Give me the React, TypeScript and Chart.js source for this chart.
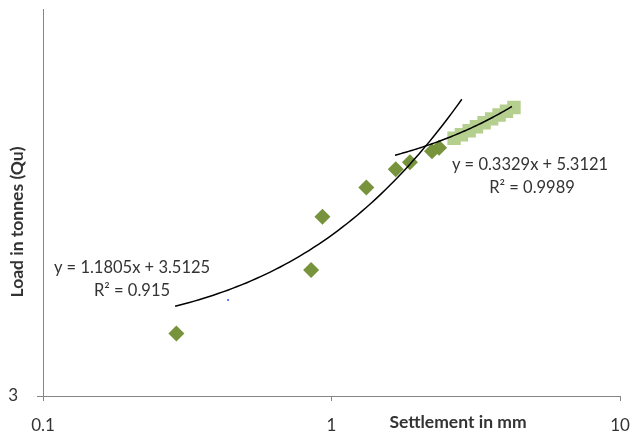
import React, { useEffect, useRef } from "react";
import { Chart, registerables } from "chart.js";

Chart.register(...registerables);

// Series 1: dark green diamonds (settlement mm, load)
const s1X = [0.29, 0.85, 0.93, 1.32, 1.67, 1.87, 2.23, 2.36];
const s1Y = [3.57, 4.26, 4.94, 5.36, 5.64, 5.75, 5.93, 5.99];

// Series 2: light green squares
const s2X = [2.66, 2.82, 3.0, 3.18, 3.38, 3.59, 3.81, 4.04, 4.29];
const s2Y = [6.15, 6.21, 6.28, 6.35, 6.42, 6.49, 6.56, 6.63, 6.7];

// Stray point
const s3X = [0.438];
const s3Y = [3.92];

// Trendlines (from displayed equations)
const trend1 = { slope: 1.1805, intercept: 3.5125, from: 0.287, to: 2.83 };
const trend2 = { slope: 0.3329, intercept: 5.3121, from: 1.66, to: 4.22 };
const trend1Label = ["y = 1.1805x + 3.5125", "R² = 0.915"];
const trend2Label = ["y = 0.3329x + 5.3121", "R² = 0.9989"];

const xTicks = [0.1, 1, 10];
const yTicks = [3];

const xTitle = "Settlement in mm";
const yTitle = "Load in tonnes (Qu)";

function trendPoints(t: { slope: number; intercept: number; from: number; to: number }) {
  const pts: { x: number; y: number }[] = [];
  const n = 60;
  const a = Math.log10(t.from);
  const b = Math.log10(t.to);
  for (let i = 0; i <= n; i++) {
    const x = Math.pow(10, a + ((b - a) * i) / n);
    pts.push({ x, y: t.slope * x + t.intercept });
  }
  return pts;
}

const FONT = "Lato, 'Open Sans', sans-serif";
const TEXT = "#333333";
const AXIS = "#868686";

export default function App() {
  const ref = useRef<HTMLCanvasElement | null>(null);
  useEffect(() => {
    if (!ref.current) return;
    const textPlugin = {
      id: "texts",
      afterDraw(chart: any) {
        const ctx = chart.ctx;
        ctx.save();
        ctx.fillStyle = TEXT;
        ctx.textAlign = "center";
        ctx.textBaseline = "middle";
        ctx.font = `16.5px ${FONT}`;
        ctx.fillText(trend1Label[0], 132, 268);
        ctx.fillText(trend1Label[1], 132, 291);
        ctx.fillText(trend2Label[0], 530, 165);
        ctx.fillText(trend2Label[1], 532, 188);
        ctx.font = `bold 17.5px ${FONT}`;
        ctx.fillText(xTitle, 458, 422);
        ctx.translate(17, 222);
        ctx.rotate(-Math.PI / 2);
        ctx.fillText(yTitle, 0, 0);
        ctx.restore();
      },
    };
    const chart = new Chart(ref.current, {
      type: "scatter",
      data: {
        datasets: [
          {
            data: trendPoints(trend1),
            showLine: true,
            borderColor: "#000000",
            borderWidth: 1.5,
            pointRadius: 0,
            order: 0,
          },
          {
            data: trendPoints(trend2),
            showLine: true,
            borderColor: "#000000",
            borderWidth: 1.5,
            pointRadius: 0,
            order: 0,
          },
          {
            data: s1X.map((x, i) => ({ x, y: s1Y[i] })),
            pointStyle: "rectRot",
            pointRadius: 8,
            backgroundColor: "#77933C",
            borderColor: "#77933C",
            borderWidth: 0,
            order: 2,
          },
          {
            data: s2X.map((x, i) => ({ x, y: s2Y[i] })),
            pointStyle: "rect",
            pointRadius: 9.5,
            backgroundColor: "#B5D08E",
            borderColor: "#B5D08E",
            borderWidth: 0,
            order: 1,
          },
          {
            data: s3X.map((x, i) => ({ x, y: s3Y[i] })),
            pointStyle: "circle",
            pointRadius: 1,
            backgroundColor: "#3050ff",
            borderColor: "#3050ff",
            borderWidth: 0,
            order: 1,
          },
        ],
      },
      options: {
        animation: false,
        responsive: false,
        layout: { padding: { top: 9, right: 10, left: 0, bottom: 0 } },
        plugins: { legend: { display: false }, tooltip: { enabled: false } },
        scales: {
          x: {
            type: "logarithmic",
            min: 0.1,
            max: 10,
            afterBuildTicks: (s: any) => {
              s.ticks = xTicks.map((v) => ({ value: v }));
            },
            afterFit: (s: any) => {
              s.height = 36;
              s.paddingLeft = 0;
              s.paddingRight = 0;
            },
            ticks: {
              color: TEXT,
              font: { family: FONT, size: 17 },
              padding: 14,
              maxRotation: 0,
              autoSkip: false,
              callback: (v: any) => String(v),
            },
            grid: { display: true, drawOnChartArea: false, tickLength: 5, color: AXIS },
            border: { display: true, color: AXIS },
          },
          y: {
            type: "logarithmic",
            min: 3,
            max: 8.8,
            afterBuildTicks: (s: any) => {
              s.ticks = yTicks.map((v) => ({ value: v }));
            },
            afterFit: (s: any) => {
              s.width = 43;
              s.paddingTop = 0;
              s.paddingBottom = 0;
            },
            ticks: {
              color: TEXT,
              font: { family: FONT, size: 17 },
              padding: 19,
              autoSkip: false,
              callback: (v: any) => String(v),
            },
            grid: { display: true, drawOnChartArea: false, tickLength: 6, color: AXIS },
            border: { display: true, color: AXIS },
          },
        },
      },
      plugins: [textPlugin],
    } as any);
    return () => chart.destroy();
  }, []);
  return (
    <div style={{ position: "absolute", left: 0, top: 0, width: 630, height: 432, background: "#fff" }}>
      <canvas ref={ref} width={630} height={432} />
    </div>
  );
}
